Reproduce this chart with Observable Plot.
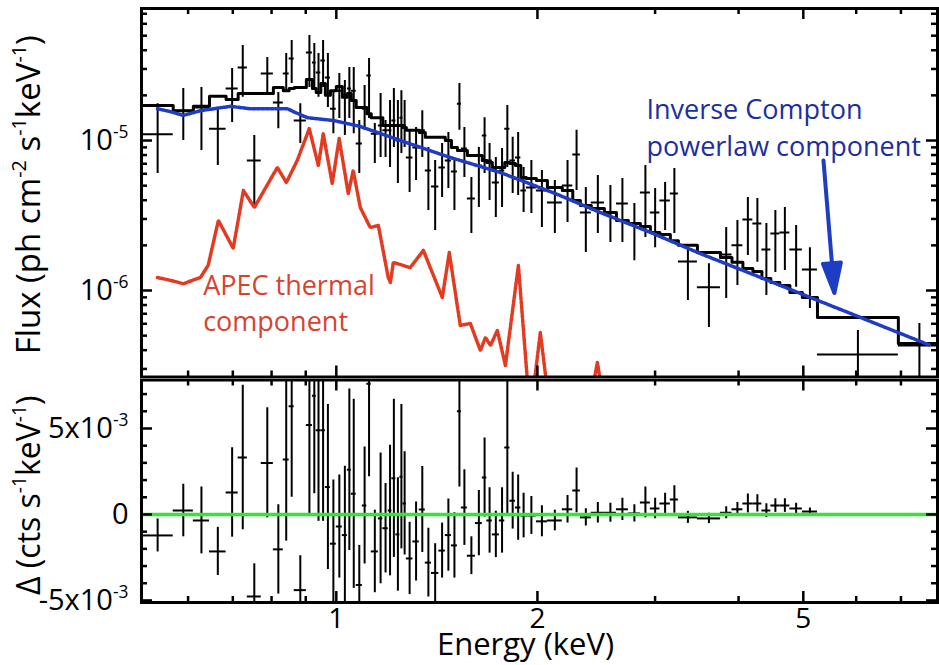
<!DOCTYPE html>
<html><head><meta charset="utf-8">
<script src="https://cdn.jsdelivr.net/npm/d3@7"></script>
<script src="https://cdn.jsdelivr.net/npm/@observablehq/plot@0.6"></script>
<style>
body{margin:0;background:#fff;}
#chart{width:939px;height:665px;}
#chart svg{display:block;}
</style></head><body><div id="chart"></div>
<script>
// ---------- data ----------
// energy bin edges (keV)
const binEdges = [0.512,0.570,0.611,0.646,0.684,0.713,0.736,0.772,0.805,0.833,0.850,0.865,0.902,0.921,0.933,0.948,0.963,0.980,1.000,1.021,1.039,1.053,1.071,1.094,1.111,1.128,1.156,1.174,1.196,1.211,1.228,1.245,1.258,1.273,1.302,1.331,1.359,1.388,1.424,1.456,1.487,1.518,1.539,1.571,1.615,1.654,1.680,1.712,1.754,1.787,1.819,1.854,1.889,1.925,1.993,2.070,2.179,2.259,2.319,2.408,2.519,2.626,2.736,2.852,2.952,3.050,3.162,3.251,3.471,3.758,3.910,4.060,4.202,4.335,4.471,4.612,4.774,4.984,5.250,6.938,8.021];
// observed flux (units of 1e-6 ph cm^-2 s^-1 keV^-1)
const fluxObs = [11.0,15.8,16.6,12.0,22.2,30.7,7.36,28.0,17.9,28.0,35.2,13.6,38.6,33.1,28.4,34.1,26.3,16.3,21.5,20.0,22.2,21.5,9.55,16.3,27.1,11.1,12.6,11.7,11.7,13.6,10.0,14.2,12.6,7.70,8.98,11.7,6.31,4.93,6.61,7.36,6.21,17.6,8.85,4.11,6.81,10.8,7.36,5.25,6.31,12.0,7.36,7.70,4.64,4.86,4.64,3.86,5.01,8.07,3.31,3.86,3.31,3.80,2.80,4.50,3.31,3.98,4.43,1.56,1.05,1.74,2.00,2.97,2.80,1.88,2.40,2.44,1.88,1.38,0.375,0.430];
const fluxHigh = [17.6,22.2,22.6,16.3,30.2,43.0,10.8,35.8,20.9,38.0,46.4,17.6,50.1,44.3,38.0,46.4,38.0,21.5,28.0,25.1,30.7,30.7,13.6,23.3,35.2,13.0,20.6,13.6,18.5,22.2,18.5,21.5,18.5,11.7,12.2,15.8,8.98,7.36,9.55,11.3,7.36,24.0,12.2,5.67,8.98,14.2,9.55,7.70,8.85,17.1,10.5,11.3,6.61,7.36,6.31,5.41,7.36,11.7,4.86,5.84,5.01,5.58,3.80,6.81,4.79,5.25,6.51,1.93,1.51,2.63,2.93,4.17,4.11,2.80,3.41,3.58,2.71,1.93,0.541,0.603];
const fluxLow = [6.03,10.0,8.58,6.81,13.2,19.4,3.52,20.6,12.0,20.9,24.0,9.55,22.6,22.6,19.4,22.6,16.6,11.1,14.0,10.8,14.0,11.1,6.03,11.7,14.0,7.03,7.70,7.70,6.61,8.98,5.17,8.19,8.98,4.50,5.41,7.70,3.41,2.51,4.17,4.79,3.41,11.7,5.67,2.40,3.58,6.03,3.98,3.07,3.58,6.61,4.43,4.30,3.31,3.26,2.63,2.40,2.84,4.64,1.79,2.40,2.09,2.09,1.58,2.26,1.93,2.51,2.40,0.858,0.567,0.884,1.08,1.71,1.54,0.926,1.32,1.36,1.05,0.759,0.136,0.136];
// total folded model per bin (units of 1e-6)
const fluxModel = [17.1,15.8,16.9,19.7,18.8,20.6,20.6,20.6,22.6,21.5,22.2,22.6,25.5,22.2,20.9,24.0,20.0,21.5,22.9,19.4,20.6,18.5,16.6,16.6,15.1,14.2,14.2,12.6,12.6,12.6,12.6,12.6,12.2,11.7,11.7,11.3,10.5,10.5,10.5,10.0,8.98,8.58,8.58,7.94,7.94,7.36,7.13,6.61,6.61,7.13,7.03,6.81,5.67,5.58,5.41,4.86,4.64,3.98,3.69,3.52,3.31,2.93,2.80,2.67,2.44,2.36,2.15,2.00,1.79,1.66,1.54,1.40,1.34,1.20,1.13,1.08,0.970,0.898,0.661,0.443];
// residuals (units of 1e-3 cts s^-1 keV^-1)
const residual = [-1.22,0.23,-0.35,-2.15,1.28,3.31,-4.77,3.0,-2.03,3.2,6.3,-4.4,5.2,6.9,4.9,4.9,1.6,-1.7,-0.7,-1.2,2.6,1.2,-4.1,0.52,7.6,-2.15,-0.23,-0.8,0.23,2.1,-1.16,2.2,0.64,-2.56,-1.57,0.29,-2.8,-3.4,-2.1,-1.2,-1.8,6.0,0.4,-2.4,-0.5,2.15,-0.35,-1.16,-0.35,3.9,0.8,0.4,-0.06,-0.06,-0.4,-0.35,0.3,1.4,-0.17,0.1,0.1,0.3,0.06,0.7,0.35,0.64,0.87,-0.17,-0.23,0.1,0.3,0.64,0.64,0.23,0.52,0.52,0.35,0.17,0.0,0.0];
const residualErr = [0.96,1.53,1.94,1.4,2.6,4.2,1.9,3.2,2.6,4.75,5.3,2.0,5.3,5.7,5.3,5.3,4.8,3.7,3.0,4.0,4.7,5.5,2.3,3.4,5.4,2.4,3.8,2.6,3.8,4.6,3.3,4.2,3.0,2.1,2.3,2.5,2.0,1.7,1.6,2.1,1.9,4.4,2.2,1.1,1.9,2.3,1.9,1.35,1.9,3.9,1.65,1.9,1.3,1.1,0.9,0.6,0.8,1.3,0.5,0.6,0.55,0.65,0.5,0.9,0.6,0.6,0.8,0.35,0.3,0.35,0.4,0.55,0.5,0.4,0.4,0.4,0.3,0.2,0.05,0.05];
// inverse Compton power-law component
const powerlawE = [0.540,0.564,0.590,0.626,0.694,0.743,0.845,0.862,0.905,0.990,1.086,1.247,1.482,1.760,2.127,2.485,2.952,3.508,4.167,4.950,5.883,6.987,7.750];
const powerlawF = [16.3,15.6,14.7,15.8,16.9,16.3,16.3,15.6,14.2,13.6,12.4,10.0,7.70,6.12,4.43,3.31,2.44,1.76,1.30,0.955,0.703,0.517,0.430];
// APEC thermal component
const apecE = [0.540,0.564,0.590,0.626,0.643,0.666,0.701,0.726,0.754,0.816,0.842,0.874,0.911,0.940,0.956,0.986,1.010,1.042,1.060,1.086,1.124,1.156,1.196,1.205,1.217,1.290,1.350,1.441,1.476,1.533,1.587,1.643,1.672,1.701,1.742,1.791,1.873,1.932,1.972,2.020,2.070,2.400,2.459,2.510];
const apecF = [1.22,1.17,1.11,1.22,1.47,2.93,1.91,4.64,3.58,6.61,5.25,7.36,12.0,6.81,11.1,5.17,10.3,4.43,6.31,3.58,2.63,2.71,1.22,1.13,1.54,1.42,1.85,0.898,1.79,0.585,0.603,0.398,0.486,0.430,0.541,0.316,1.47,0.251,0.215,0.525,0.215,0.185,0.331,0.185];
// ticks
const xMajorTicks = [1, 2, 5];
const xTickLabels = ["1", "2", "5"];
const xMinorTicks = [0.6, 0.7, 0.8, 0.9, 3, 4, 6, 7];
const fluxMajorTicks = [1e-6, 1e-5];
const fluxTickLabels = ["10^{-6}", "10^{-5}"];
const fluxMinorTicks = [3e-7,4e-7,5e-7,6e-7,7e-7,8e-7,9e-7,2e-6,3e-6,4e-6,5e-6,6e-6,7e-6,8e-6,9e-6,2e-5,3e-5,4e-5,5e-5,6e-5,7e-5];
const residMajorTicks = [-5e-3, 0, 5e-3];
const residTickLabels = ["-5x10^{-3}", "0", "5x10^{-3}"];
const residMinorTicks = [-4e-3,-3e-3,-2e-3,-1e-3,1e-3,2e-3,3e-3,4e-3,6e-3,7e-3];

// ---------- build tables ----------
const FS = 1e-6, RS = 1e-3;
const bins = fluxObs.map((f, i) => ({
  e0: binEdges[i], e1: binEdges[i + 1], e: Math.sqrt(binEdges[i] * binEdges[i + 1]),
  f: f * FS, fhi: fluxHigh[i] * FS, flo: fluxLow[i] * FS,
  r: residual[i] * RS, rlo: (residual[i] - residualErr[i]) * RS, rhi: (residual[i] + residualErr[i]) * RS
}));
const modelStep = fluxModel.map((m, i) => ({x: binEdges[i], y: m * FS}));
modelStep.push({x: binEdges[binEdges.length - 1], y: fluxModel[fluxModel.length - 1] * FS});
const powerlaw = powerlawE.map((e, i) => ({x: e, y: powerlawF[i] * FS}));
const apec = apecE.map((e, i) => ({x: e, y: apecF[i] * FS}));

const FONT = "'Open Sans', 'Noto Sans', sans-serif";
const W = 939, ML = 141, MR = 2;
const innerW = W - ML - MR;
const xDomain = [0.511, 7.94];
const BLUE = "#1f3cc4", BLUE_TXT = "#1c2ea0", RED = "#e33b22", RED_TXT = "#d8432f", GREEN = "#33e633";

function frameTicks(xMaj, xMin, yMaj, yMin, innerH) {
  const sw = 2.5, maj = 11, mn = 6;
  return [
    Plot.tickX(xMaj, {x: d => d, insetBottom: innerH - maj, strokeWidth: sw}),
    Plot.tickX(xMin, {x: d => d, insetBottom: innerH - mn, strokeWidth: sw}),
    Plot.tickX(xMaj, {x: d => d, insetTop: innerH - maj, strokeWidth: sw}),
    Plot.tickX(xMin, {x: d => d, insetTop: innerH - mn, strokeWidth: sw}),
    Plot.tickY(yMaj, {y: d => d, insetRight: innerW - maj, strokeWidth: sw}),
    Plot.tickY(yMin, {y: d => d, insetRight: innerW - mn, strokeWidth: sw}),
    Plot.tickY(yMaj, {y: d => d, insetLeft: innerW - maj, strokeWidth: sw}),
    Plot.tickY(yMin, {y: d => d, insetLeft: innerW - mn, strokeWidth: sw})
  ];
}

const arrowShape = {
  draw(ctx, l) {
    const hl = 30, hw = 9;
    ctx.moveTo(0, 0); ctx.lineTo(0, -(l - hl + 2));
    ctx.moveTo(-hw, -(l - hl)); ctx.lineTo(0, -l); ctx.lineTo(hw, -(l - hl)); ctx.closePath();
  }
};

// ---------- top panel ----------
const topH = 378, topMT = 8, topMB = 1.5;
const topPlot = Plot.plot({
  width: W, height: topH, marginTop: topMT, marginBottom: topMB, marginLeft: ML, marginRight: MR,
  x: {type: "log", domain: xDomain, axis: null},
  y: {type: "log", domain: [2.65e-7, 7.59e-5], axis: null},
  style: {fontFamily: FONT, background: "white", color: "black"},
  marks: [
    Plot.ruleX(bins, {x: "e", y1: "flo", y2: "fhi", stroke: "black", strokeWidth: 2, clip: true}),
    Plot.ruleY(bins, {y: "f", x1: "e0", x2: "e1", stroke: "black", strokeWidth: 2, clip: true}),
    Plot.line(modelStep, {x: "x", y: "y", curve: "step-after", stroke: "black", strokeWidth: 3, clip: true}),
    Plot.line(powerlaw, {x: "x", y: "y", stroke: BLUE, strokeWidth: 3.5, strokeDasharray: "3,1.6", clip: true}),
    Plot.line(apec, {x: "x", y: "y", stroke: RED, strokeWidth: 3.5, strokeDasharray: "3,1.6", clip: true}),
    Plot.text(["Inverse Compton\npowerlaw component"], {x: () => 2.912, y: () => 1.26e-5, text: d => d, textAnchor: "start", lineAnchor: "middle", lineHeight: 1.38, fontSize: 27, fill: BLUE_TXT}),
    Plot.text(["APEC thermal\ncomponent"], {x: () => 0.632, y: () => 8.45e-7, text: d => d, textAnchor: "start", lineAnchor: "middle", lineHeight: 1.34, fontSize: 27, fill: RED_TXT}),
    Plot.vector([0], {x: () => 5.36, y: () => 7.36e-6, length: 133, rotate: 175.3, anchor: "start", shape: arrowShape, stroke: BLUE, fill: BLUE, strokeWidth: 4}),
    ...frameTicks(xMajorTicks, xMinorTicks, fluxMajorTicks, fluxMinorTicks, topH - topMT - topMB),
    Plot.text(fluxMajorTicks, {y: d => d, text: (d, i) => fluxTickLabels[i], frameAnchor: "left", dx: -13, textAnchor: "end", lineAnchor: "middle", fontSize: 29}),
    Plot.text(["Flux (ph cm^{-2} s^{-1}keV^{-1})"], {text: d => d, frameAnchor: "left", dx: -112, dy: 2, rotate: -90, textAnchor: "middle", lineAnchor: "middle", fontSize: 33}),
    Plot.frame({strokeWidth: 3})
  ]
});

// ---------- bottom panel ----------
const botH = 287, botMT = 1.5, botMB = 63;
const bottomPlot = Plot.plot({
  width: W, height: botH, marginTop: botMT, marginBottom: botMB, marginLeft: ML, marginRight: MR,
  x: {type: "log", domain: xDomain, axis: null},
  y: {domain: [-5.12e-3, 7.82e-3], axis: null},
  style: {fontFamily: FONT, background: "white", color: "black"},
  marks: [
    Plot.ruleX(bins, {x: "e", y1: "rlo", y2: "rhi", stroke: "black", strokeWidth: 2, clip: true}),
    Plot.ruleY(bins, {y: "r", x1: "e0", x2: "e1", stroke: "black", strokeWidth: 2, clip: true}),
    Plot.ruleY([0], {stroke: GREEN, strokeWidth: 3.5}),
    ...frameTicks(xMajorTicks, xMinorTicks, residMajorTicks, residMinorTicks, botH - botMT - botMB),
    Plot.text(residMajorTicks, {y: d => d, text: (d, i) => residTickLabels[i], frameAnchor: "left", dx: -13, textAnchor: "end", lineAnchor: "middle", fontSize: 29}),
    Plot.text(xMajorTicks, {x: d => d, text: (d, i) => xTickLabels[i], frameAnchor: "bottom", dy: 17, lineAnchor: "middle", fontSize: 28}),
    Plot.text(["Energy (keV)"], {text: d => d, frameAnchor: "bottom", dx: -14, dy: 43, lineAnchor: "middle", fontSize: 31}),
    Plot.text(["\u0394 (cts s^{-1}keV^{-1})"], {text: d => d, frameAnchor: "left", dx: -112, dy: 4, rotate: -90, textAnchor: "middle", lineAnchor: "middle", fontSize: 32}),
    Plot.frame({strokeWidth: 3})
  ]
});

const chart = document.getElementById("chart");
chart.appendChild(topPlot);
chart.appendChild(bottomPlot);

// superscripts: turn "^{..}" into raised tspans
function supify(root) {
  const NS = "http://www.w3.org/2000/svg";
  root.querySelectorAll("text").forEach(t => {
    if (t.querySelector("tspan")) return;
    const s = t.textContent;
    if (!s.includes("^{")) return;
    const fs = parseFloat(getComputedStyle(t).fontSize) || 29;
    const supSize = fs * 0.6, raise = fs * 0.42;
    const parts = s.split(/\^\{([^}]*)\}/);
    t.textContent = "";
    let shifted = false;
    parts.forEach((p, i) => {
      if (!p) return;
      const ts = document.createElementNS(NS, "tspan");
      ts.textContent = p;
      if (i % 2 === 1) { ts.setAttribute("font-size", supSize); ts.setAttribute("dy", -raise); shifted = true; }
      else if (shifted) { ts.setAttribute("dy", raise); shifted = false; }
      t.appendChild(ts);
    });
  });
}
supify(chart);
</script></body></html>
